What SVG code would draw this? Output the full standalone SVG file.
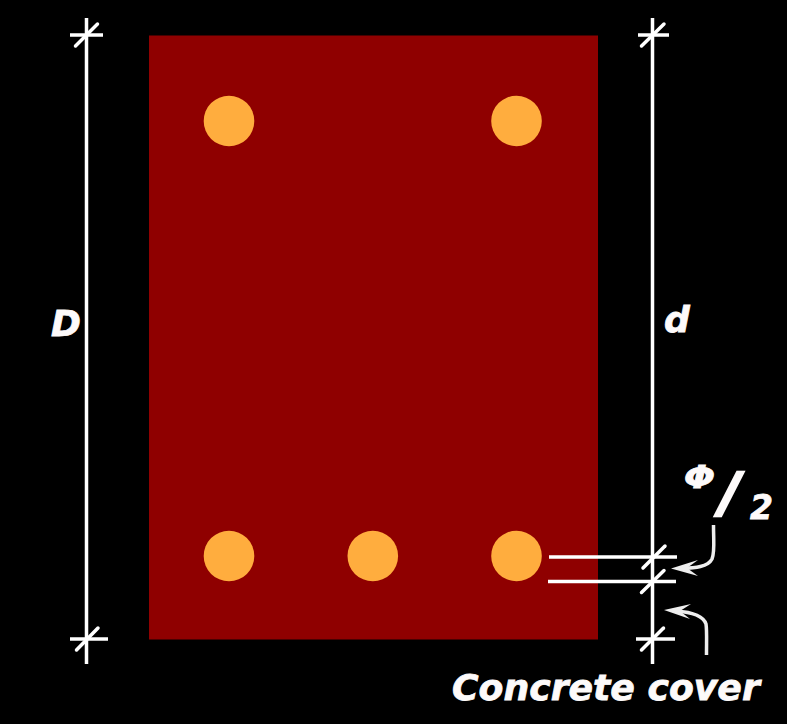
<svg xmlns="http://www.w3.org/2000/svg" width="787" height="724" viewBox="0 0 787 724">
<defs>
<style>
.l{stroke:#fff;stroke-width:3.5;fill:none}
.t{stroke:#fff;stroke-width:3.5;fill:none;stroke-linecap:round}
.a{stroke:#eee;stroke-width:3.5;fill:none}
.h{fill:#eee}
.b{fill:#ffad3e}
text{font-family:"DejaVu Sans",sans-serif;font-weight:bold;font-style:italic;fill:#fdfafa;stroke:#fdfafa;stroke-width:.8}
</style>
</defs>
<rect width="787" height="724" fill="#000"/>
<g id="section"><rect x="149" y="35.500" width="449" height="604" fill="#8f0000"/></g>
<g id="bar-top-left"><circle class="b" cx="229" cy="121" r="25.300"/></g>
<g id="bar-top-right"><circle class="b" cx="516.500" cy="121" r="25.300"/></g>
<g id="bar-bottom-left"><circle class="b" cx="229" cy="556" r="25.300"/></g>
<g id="bar-bottom-middle"><circle class="b" cx="372.800" cy="556" r="25.300"/></g>
<g id="bar-bottom-right"><circle class="b" cx="516.500" cy="556" r="25.300"/></g>
<g id="connectors">
<path class="l" d="M86.500 18V664M70 35H103M70 639H108"/>
<path class="t" d="M75.500 46L97.500 24"/>
<path class="t" d="M76.500 650L98 628"/>
<path class="l" d="M652.500 18V664M638 35H669M549 557H677M548 581.500H676M636 639H675"/>
<path class="t" d="M641.500 46L664 24"/>
<path class="t" d="M643 568L665 546"/>
<path class="t" d="M641.500 592.500L664 570.500"/>
<path class="t" d="M641.500 650L663.500 628"/>
<path class="a" d="M713.500 525C713.500 542 715 552 712 559C708 567 695 568 682 568.500"/>
<path class="h" d="M671 568.500L698 560L687 568L698 576Z"/>
<path class="a" d="M706.500 655C706.500 640 707 630 706 624C703 615 690 612 676 611"/>
<path class="h" d="M664 610L691 604L680 611L690 619Z"/>
</g>
<g id="labels">
<text x="51" y="336" font-size="36">D</text>
<text x="664" y="332" font-size="36">d</text>
<text transform="translate(684 488) scale(1.14 1)" font-size="32">Φ</text>
<text x="720" y="511" font-size="54" style="stroke-width:2.5">/</text>
<text x="750" y="519" font-size="33">2</text>
<text x="452" y="700" font-size="36.200">Concrete cover</text>
</g>
</svg>
